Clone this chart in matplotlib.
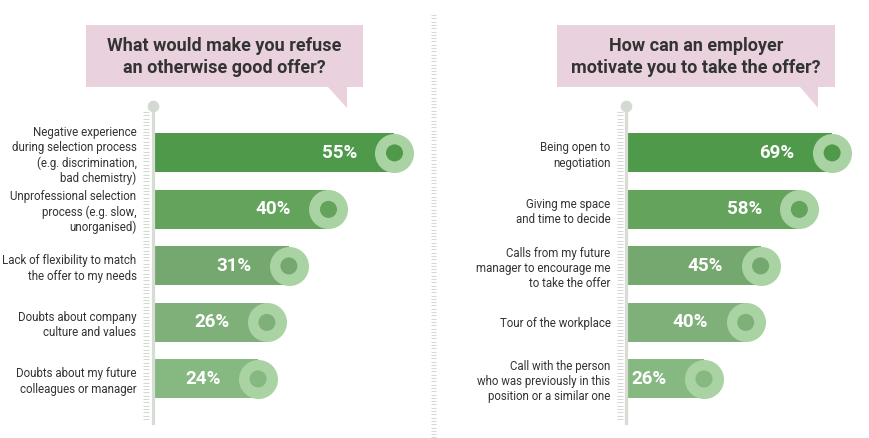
import numpy as np
import matplotlib
matplotlib.use("Agg")
import matplotlib.pyplot as plt
from matplotlib.patches import Polygon
from matplotlib.collections import LineCollection

# ---- data ---------------------------------------------------------------
left_title = "What would make you refuse\nan otherwise good offer?"
left_labels = ["Negative experience\nduring selection process\n(e.g. discrimination,\nbad chemistry)",
               "Unprofessional selection\nprocess (e.g. slow,\nunorganised)",
               "Lack of flexibility to match\nthe offer to my needs",
               "Doubts about company\nculture and values",
               "Doubts about my future\ncolleagues or manager"]
left_values = [55, 40, 31, 26, 24]

right_title = "How can an employer\nmotivate you to take the offer?"
right_labels = ["Being open to\nnegotiation",
                "Giving me space\nand time to decide",
                "Calls from my future\nmanager to encourage me\nto take the offer",
                "Tour of the workplace",
                "Call with the person\nwho was previously in this\nposition or a similar one"]
right_values = [69, 58, 45, 40, 26]

# ---- style --------------------------------------------------------------
W, H = 870, 438
BARS = ["#4f9a4a", "#63a35c", "#74a86e", "#7fb07a", "#86b882"]
RING = "#aad3a3"
PINK = "#e9d2de"
INK = "#333333"
AXIS = "#d7dcd5"
HATCH = "#d3dbd1"
plt.rcParams.update({"font.family": ["Roboto", "DejaVu Sans"], "font.size": 8})

fig = plt.figure(figsize=(W / 100, H / 100), dpi=100)
fx = lambda x: x / W
fy = lambda y: 1 - y / H


def hatch_strip(x0, x1, y0, y1, step=3.3):
    ys = np.arange(y0, y1, step)
    segs = [[(fx(x0), fy(y)), (fx(x1), fy(y))] for y in ys]
    fig.add_artist(LineCollection(segs, colors=HATCH, linewidths=0.8,
                                  transform=fig.transFigure))


def bubble(x0, x1, y0, y1, tx0, tx1, ty, text):
    pts = [(x0, y0), (x1, y0), (x1, y1), (tx1, y1), (tx1, ty), (tx0, y1), (x0, y1)]
    fig.add_artist(Polygon([(fx(a), fy(b)) for a, b in pts], closed=True,
                           facecolor=PINK, edgecolor="none", transform=fig.transFigure))
    fig.text(fx((x0 + x1) / 2), fy((y0 + y1) / 2 + 1), text, ha="center", va="center",
             fontsize=13, fontweight="bold", color=INK, linespacing=1.3)


def panel(x_axis, px_per_unit, width_px, labels, values):
    top, bot = 106, 423
    ax = fig.add_axes([fx(x_axis), fy(bot), width_px / W, (bot - top) / H])
    ax.set_xlim(0, width_px / px_per_unit)
    ax.set_ylim(4.78, -0.83)
    ax.patch.set_visible(False)
    for s in ("top", "right", "bottom"):
        ax.spines[s].set_visible(False)
    ax.spines["left"].set_color(AXIS)
    ax.spines["left"].set_linewidth(2.3)
    ax.spines["left"].set_zorder(5)
    ax.set_xticks([])
    y = np.arange(len(values))
    ax.barh(y, values, height=0.69, color=BARS, zorder=2)
    ax.scatter(values, y, s=790, color=RING, linewidths=0, zorder=3)
    ax.scatter(values, y, s=150, color=BARS, linewidths=0, zorder=4)
    for v, yi in zip(values, y):
        ax.annotate(f"{v}%", (v, yi), xytext=(-27, 0), textcoords="offset points",
                    ha="right", va="center", color="white", fontsize=13.5,
                    fontweight="bold", zorder=5)
    ax.set_yticks(y)
    ax.set_yticklabels(labels, fontsize=8.3, color=INK, linespacing=1.22)
    ax.tick_params(axis="y", length=0, pad=11.5)
    ax.scatter([0], [-0.83], s=70, color="#d2dad1", linewidths=0, zorder=6, clip_on=False)
    hatch_strip(x_axis - 9.5, x_axis - 4, 112, 422)
    return ax


bubble(86, 363, 25, 87, 328, 347, 108, left_title)
bubble(557, 835, 25, 87, 800, 818, 108, right_title)
panel(152.5, 4.4, 290, left_labels, left_values)
panel(626.5, 2.98, 230, right_labels, right_values)
hatch_strip(431, 436, 15, 438)

fig.savefig("out.png", dpi=100)
